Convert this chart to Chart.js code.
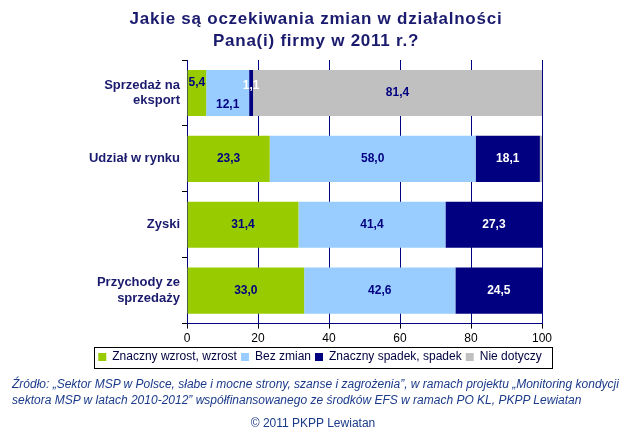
<!DOCTYPE html>
<html><head><meta charset="utf-8">
<script src="https://cdn.jsdelivr.net/npm/chart.js@4/dist/chart.umd.min.js"></script>
<style>
body{margin:0;background:#fff;}
#wrap{position:relative;width:626px;height:439px;overflow:hidden;font-family:Arial,"Liberation Sans",sans-serif;}
#title{position:absolute;left:0;top:8px;width:632px;text-align:center;font-weight:bold;font-size:17px;line-height:22px;color:#1a1a6e;letter-spacing:0.75px;}
#cv{position:absolute;left:0;top:50px;width:626px;height:328px;}
#src{position:absolute;left:12px;top:376px;width:620px;white-space:nowrap;font-style:italic;font-size:12px;line-height:16px;color:#1a3a8a;letter-spacing:0;}
#copy{position:absolute;left:0;top:416px;width:626px;text-align:center;font-size:12px;color:#1a3a8a;}
</style></head><body>
<div id="wrap">
<div id="cv"><canvas id="c" width="626" height="328"></canvas></div>
<div id="title">Jakie są oczekiwania zmian w działalności<br>Pana(i) firmy w 2011 r.?</div>
<div id="src">Źródło: „Sektor MSP w Polsce, słabe i mocne strony, szanse i zagrożenia”, w ramach projektu „Monitoring kondycji<br>sektora MSP w latach 2010-2012” współfinansowanego ze środków EFS w ramach PO KL, PKPP Lewiatan</div>
<div id="copy">© 2011 PKPP Lewiatan</div>
</div>
<script>
const categories = [["Sprzedaż na","eksport"],"Udział w rynku","Zyski",["Przychody ze","sprzedaży"]];
const seriesNames = ["Znaczny wzrost, wzrost","Bez zmian","Znaczny spadek, spadek","Nie dotyczy"];
const wzrost = [5.4, 23.3, 31.4, 33.0];
const bezZmian = [12.1, 58.0, 41.4, 42.6];
const spadek = [1.1, 18.1, 27.3, 24.5];
const nieDotyczy = [81.4, 0.6, 0, 0];
const xTicks = [0,20,40,60,80,100];

const colors = ["#99CC00","#99CCFF","#000080","#C0C0C0"];
const labelColors = ["#000080","#000080","#FFFFFF","#000080"];
const labelOffsets = [[-10,0,0,0],[12,0,0,0],[-7,0,0,0],[0,0,0,0]];
const FONT = 'Arial, "Liberation Sans", sans-serif';
const LEGEND_CENTER_X = 320;
const LEGEND_ROW_TOP = 301;

const labelPlugin = {
  id:'vals',
  afterUpdate(chart){
    const l = chart.legend;
    if(!l) return;
    const hb = l.legendHitBoxes;
    if(!hb || !hb.length) return;
    const minL = Math.min(...hb.map(h=>h.left));
    const maxR = Math.max(...hb.map(h=>h.left+h.width));
    const dx = Math.round(LEGEND_CENTER_X - (minL + maxR)/2);
    const dy = LEGEND_ROW_TOP - hb[0].top;
    l.left += dx; l.right += dx;
    l.top += dy; l.bottom += dy;
    hb.forEach(h=>{h.left += dx; h.top += dy;});
  },
  afterDatasetsDraw(chart){
    const ctx = chart.ctx;
    ctx.save();
    ctx.font = 'bold 12px ' + FONT;
    ctx.textAlign='center'; ctx.textBaseline='middle';
    chart.data.datasets.forEach((ds,di)=>{
      const meta = chart.getDatasetMeta(di);
      meta.data.forEach((bar,i)=>{
        const v = ds.data[i];
        if(v < 1) return;
        const x = (bar.x + bar.base)/2;
        const y = bar.y + labelOffsets[di][i];
        ctx.fillStyle = labelColors[di];
        ctx.fillText(v.toFixed(1).replace('.',','), x, y);
      });
    });
    ctx.restore();
  },
  afterDraw(chart){
    const l = chart.legend;
    const hb = l.legendHitBoxes;
    if(!hb || !hb.length) return;
    const left = Math.min(...hb.map(h=>h.left)) - 4;
    const right = Math.max(...hb.map(h=>h.left+h.width)) + 11;
    const top = Math.min(...hb.map(h=>h.top)) - 4;
    const bottom = Math.max(...hb.map(h=>h.top+h.height)) + 5;
    const ctx = chart.ctx;
    ctx.save();
    ctx.strokeStyle='#000000'; ctx.lineWidth=1;
    ctx.strokeRect(Math.round(left)+0.5, Math.round(top)+0.5, Math.round(right-left), Math.round(bottom-top));
    ctx.restore();
  }
};

const dataArrays=[wzrost,bezZmian,spadek,nieDotyczy];
new Chart(document.getElementById('c'),{
  type:'bar',
  data:{
    labels:categories,
    datasets:seriesNames.map((n,i)=>({label:n,data:dataArrays[i],backgroundColor:colors[i],borderWidth:0,barPercentage:0.70,categoryPercentage:1}))
  },
  options:{
    indexAxis:'y',
    responsive:false,
    animation:false,
    layout:{padding:{left:10,right:84,top:10,bottom:3}},
    plugins:{
      title:{display:false},
      tooltip:{enabled:false},
      legend:{
        position:'bottom',
        labels:{boxWidth:8,boxHeight:8,padding:4,color:'#000040',font:{family:FONT,size:12}}
      }
    },
    scales:{
      x:{
        stacked:true,min:0,max:100,
        afterBuildTicks(ax){ax.ticks = xTicks.map(v=>({value:v}));},
        ticks:{color:'#000000',font:{family:FONT,size:12},padding:3},
        grid:{color:'#000080',lineWidth:1,tickLength:5,tickColor:'#000000'},
        border:{color:'#000080'}
      },
      y:{
        stacked:true,
        afterFit(ax){ax.width = 177; ax.paddingTop = 0; ax.paddingBottom = 0;},
        ticks:{color:'#1a1a6e',font:{family:FONT,size:13,weight:'bold'},padding:2},
        grid:{drawOnChartArea:false,offset:true,tickLength:5,color:'#000000'},
        border:{color:'#000080'}
      }
    }
  },
  plugins:[labelPlugin]
});
</script>
</body></html>
